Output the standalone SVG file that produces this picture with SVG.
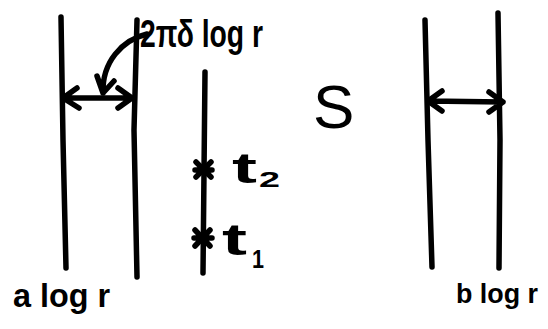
<svg xmlns="http://www.w3.org/2000/svg" width="548" height="329" viewBox="0 0 548 329">
<style>
.ln{stroke:#000;stroke-width:5.5;stroke-linecap:round;stroke-linejoin:round;fill:none}
.hw{font-family:"Liberation Sans",Arial,sans-serif;font-weight:bold;fill:#000}
</style>
<rect width="548" height="329" fill="#fff"/>
<g id="left-strip">
  <path class="ln" d="M61,17 L63,140 L66,268"/>
  <path class="ln" d="M137,20 L134,130 L137,277"/>
  <text class="hw" x="13" y="307" font-size="34" textLength="97" lengthAdjust="spacingAndGlyphs">a log r</text>
</g>
<g id="middle-line">
  <path class="ln" d="M205,72 L203,273"/>
  <g id="t2">
    <path class="ln" d="M196,162 L211,177 M211,162 L196,177 M195,170 L212,170" stroke-width="4"/>
    <text class="hw" x="232" y="183" font-size="42" textLength="25" lengthAdjust="spacingAndGlyphs">t</text>
    <text class="hw" x="259" y="187" font-size="22" textLength="21" lengthAdjust="spacingAndGlyphs">2</text>
  </g>
  <g id="t1">
    <path class="ln" d="M195,230 L210,246 M210,230 L195,246 M194,238 L212,238" stroke-width="4"/>
    <text class="hw" x="222" y="255" font-size="44" textLength="25" lengthAdjust="spacingAndGlyphs">t</text>
    <text class="hw" x="252" y="268" font-size="26" textLength="12" lengthAdjust="spacingAndGlyphs">1</text>
  </g>
</g>
<g id="label-2pidelta">
  <text class="hw" x="140" y="47" font-size="38" textLength="123" lengthAdjust="spacingAndGlyphs">2πδ log r</text>
</g>
<g id="S">
  <text x="313" y="128" font-family="Liberation Sans,Arial,sans-serif" font-size="62" fill="#000">S</text>
</g>
<g id="right-strip">
  <path class="ln" d="M425,20 L428,140 L432,267"/>
  <path class="ln" d="M498,13 L500,140 L499,268"/>
  <text class="hw" x="456" y="303" font-size="28" textLength="82" lengthAdjust="spacingAndGlyphs">b log r</text>
</g>
<g id="connectors">
  <path class="ln" d="M63,98 L132,98 M77,88 L63,98 L79,108 M118,88 L132,98 L118,108"/>
  <path class="ln" d="M147,34 C122,40 102,62 103,93 M97,76 L103,93 L114,81"/>
  <path class="ln" d="M428,101 L503,102 M442,91 L428,101 L442,111 M489,92 L503,102 L489,112"/>
</g>
</svg>
